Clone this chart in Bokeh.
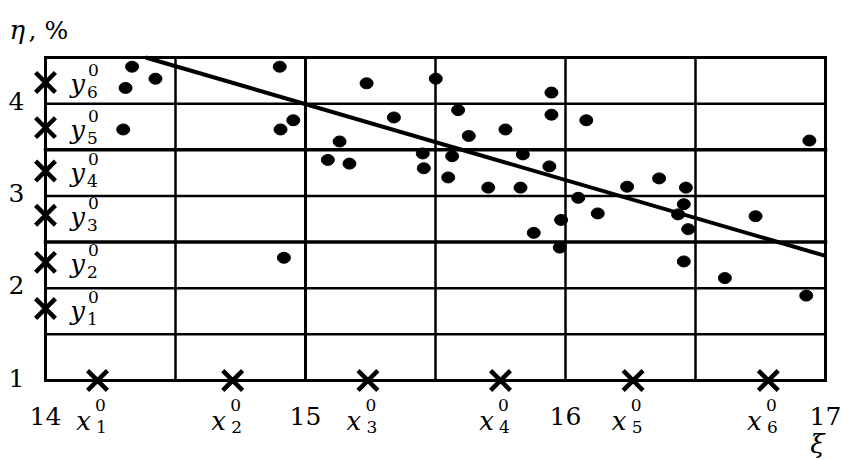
from bokeh.plotting import figure
from bokeh.models import Range1d, ColumnDataSource
from bokeh.embed import file_html
from bokeh.resources import INLINE
from bokeh.core.properties import value

# ---------------- data ----------------
pts_x = [14.333, 14.423, 14.308, 14.299, 14.901, 14.953, 14.904, 14.917,
         15.235, 15.501, 15.340, 15.587, 15.628, 15.131, 15.086, 15.169,
         15.451, 15.455, 15.564, 15.549, 15.703, 15.769, 15.946, 15.946,
         16.080, 15.836, 15.938, 15.827, 16.049, 16.124, 15.983, 15.878,
         15.978, 16.237, 16.360, 16.463, 16.455, 16.433, 16.472, 16.455,
         16.938, 16.731, 16.613, 16.926]
pts_y = [4.40, 4.27, 4.17, 3.72, 4.40, 3.82, 3.72, 2.33,
         4.22, 4.27, 3.85, 3.93, 3.65, 3.59, 3.39, 3.35,
         3.46, 3.30, 3.43, 3.20, 3.09, 3.72, 4.12, 3.88,
         3.82, 3.45, 3.32, 3.09, 2.98, 2.81, 2.74, 2.60,
         2.44, 3.10, 3.19, 3.09, 2.91, 2.80, 2.64, 2.29,
         3.60, 2.78, 2.11, 1.92]

# regression line end points
line_x = [14.385, 17.0]
line_y = [4.5, 2.35]

# grouping centres x_i^0 and y_i^0
xc_pos = [14.20, 14.72, 15.24, 15.75, 16.26, 16.78]
xc_idx = ["1", "2", "3", "4", "5", "6"]
yc_pos = [1.78, 2.28, 2.79, 3.27, 3.74, 4.23]
yc_idx = ["1", "2", "3", "4", "5", "6"]

x_ticks = [14, 15, 16, 17]
x_tick_labels = ["14", "15", "16", "17"]
y_ticks = [1, 2, 3, 4]
y_tick_labels = ["1", "2", "3", "4"]

grid_x = [14.0, 14.5, 15.0, 15.5, 16.0, 16.5, 17.0]
grid_x_w = [3, 2.5, 3, 2.5, 2.5, 2.5, 3]
grid_y = [1.0, 1.5, 2.0, 2.5, 3.0, 3.5, 4.0, 4.5]
grid_y_w = [3, 2.5, 2.5, 3.5, 2.5, 3.5, 2.5, 3]

X0, X1, Y0, Y1 = 14.0, 17.0, 1.0, 4.5

# ---------------- layout helpers ----------------
W, H = 847, 460
PXU = 260.0     # pixels per x unit
PYU = 92.29     # pixels per y unit
LEFT_PX, BOTTOM_PX = 45, 380
x_start = X0 - LEFT_PX / PXU
x_end = x_start + W / PXU
y_start = Y0 - (H - BOTTOM_PX) / PYU
y_end = y_start + H / PYU

def dx(px):
    return px / PXU

def dy(px):
    return px / PYU

p = figure(width=W, height=H, output_backend="svg", toolbar_location=None,
           x_range=Range1d(x_start, x_end), y_range=Range1d(y_start, y_end),
           x_axis_location=None, y_axis_location=None, min_border=0,
           outline_line_color=None, background_fill_color="white",
           border_fill_color="white")
p.xgrid.visible = False
p.ygrid.visible = False

# grid lines
p.segment(x0=grid_x, y0=[Y0] * len(grid_x), x1=grid_x, y1=[Y1] * len(grid_x),
          line_color="black", line_width=grid_x_w, line_cap="square")
p.segment(x0=[X0] * len(grid_y), y0=grid_y, x1=[X1] * len(grid_y), y1=grid_y,
          line_color="black", line_width=grid_y_w, line_cap="square")

# regression line
p.line(line_x, line_y, line_color="black", line_width=4)

# points
p.ellipse(x=pts_x, y=pts_y, width=13, height=11, width_units="screen",
          height_units="screen", fill_color="black", line_color="black")

# crosses
p.scatter(x=xc_pos, y=[Y0] * len(xc_pos), marker="x", size=28,
          line_color="black", line_width=4.5)
p.scatter(x=[X0] * len(yc_pos), y=yc_pos, marker="x", size=28,
          line_color="black", line_width=4.5)

SERIF = value("DejaVu Serif")

def txt(xs, ys, texts, size, style="normal", align="center"):
    src = ColumnDataSource(dict(x=xs, y=ys, t=texts))
    p.text(x="x", y="y", text="t", source=src, text_font=SERIF,
           text_font_size=value(size), text_font_style=value(style),
           text_align=value(align), text_baseline=value("middle"),
           text_color="black")

# x_i^0 labels
txt([x - dx(14) for x in xc_pos], [Y0 - dy(40)] * 6, ["x"] * 6, "26px", "italic")
txt([x + dx(3) for x in xc_pos], [Y0 - dy(24)] * 6, ["0"] * 6, "17px")
txt([x + dx(4) for x in xc_pos], [Y0 - dy(46)] * 6, xc_idx, "17px")

# y_i^0 labels
txt([X0 + dx(32)] * 6, [y - dy(2) for y in yc_pos], ["y"] * 6, "26px", "italic")
txt([X0 + dx(48)] * 6, [y + dy(12) for y in yc_pos], ["0"] * 6, "17px")
txt([X0 + dx(47)] * 6, [y - dy(10) for y in yc_pos], yc_idx, "17px")

# tick labels
txt([t for t in x_ticks], [Y0 - dy(35)] * 4, x_tick_labels, "25px")
txt([X0 - dx(29)] * 4, [t + dy(3) for t in y_ticks], y_tick_labels, "25px")

# axis titles
txt([X0 - dx(36)], [Y1 + dy(27)], ["η"], "26px", "italic", "left")
txt([X0 - dx(17)], [Y1 + dy(27)], [", %"], "25px", "normal", "left")
txt([X1 - dx(8)], [Y0 - dy(63)], ["ξ"], "26px", "italic")

open("out.html", "w").write(file_html(p, INLINE))
